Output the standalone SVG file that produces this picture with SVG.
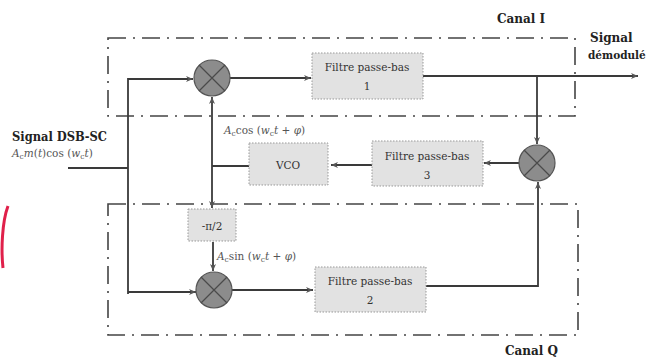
<svg xmlns="http://www.w3.org/2000/svg" width="654" height="358" viewBox="0 0 654 358">
<defs>
<marker id="ar" markerWidth="8" markerHeight="8" refX="7" refY="4" orient="auto" markerUnits="userSpaceOnUse">
<path d="M0,1 L7,4 L0,7 L2,4 Z" fill="#555"/>
</marker>
<style>
.ln{fill:none;stroke:#3a3a3a;stroke-width:1.8}
.grp{fill:none;stroke:#444;stroke-width:1.6;stroke-dasharray:18 7 2 7}
.box{fill:#e2e2e2;stroke:#999;stroke-width:1;stroke-dasharray:1.5 1.5}
.mul{fill:#8c8c8c;stroke:#555;stroke-width:1.2}
.x{stroke:#4a4a4a;stroke-width:1.2}
text{font-family:'DejaVu Serif',serif}
.t{font-size:10.5px;fill:#333;text-anchor:middle}
.b{font-weight:bold;fill:#222;font-size:12px}
.f{font-size:10.5px;fill:#555}
</style>
</defs>
<rect width="654" height="358" fill="#fff"/>
<path d="M8,206 C2,222 1,250 3,268" fill="none" stroke="#e0204a" stroke-width="3"/>
<g id="canal-i">
<rect class="grp" x="108" y="38" width="467" height="78"/>
<text class="b" x="497" y="23">Canal I</text>
</g>
<g id="canal-q">
<rect class="grp" x="108" y="204" width="470" height="131"/>
<text class="b" x="505" y="355">Canal Q</text>
</g>
<g id="connectors">
<path class="ln" d="M68,168 H128"/>
<path class="ln" d="M128,294 V79 H193" marker-end="url(#ar)"/>
<path class="ln" d="M128,292 H196" marker-end="url(#ar)"/>
<path class="ln" d="M230,78 H311" marker-end="url(#ar)"/>
<path class="ln" d="M423,76 H638" marker-end="url(#ar)"/>
<path class="ln" d="M537,76 V144" marker-end="url(#ar)"/>
<path class="ln" d="M519,163 H484" marker-end="url(#ar)"/>
<path class="ln" d="M372,165 H331" marker-end="url(#ar)"/>
<path class="ln" d="M249,166 H212"/>
<path class="ln" d="M212,166 V97" marker-end="url(#ar)"/>
<path class="ln" d="M212,166 V208" marker-end="url(#ar)"/>
<path class="ln" d="M213,242 V271" marker-end="url(#ar)"/>
<path class="ln" d="M232,290 H313" marker-end="url(#ar)"/>
<path class="ln" d="M426,286 H538 V182" marker-end="url(#ar)"/>
</g>
<g id="input-label">
<text class="b" x="12" y="141" textLength="95" lengthAdjust="spacingAndGlyphs">Signal DSB-SC</text>
<text class="f" x="12" y="157"><tspan font-style="italic">A</tspan><tspan font-size="7.5" dy="2">c</tspan><tspan dy="-2" font-style="italic">m</tspan>(<tspan font-style="italic">t</tspan>)cos (<tspan font-style="italic">w</tspan><tspan font-size="7.5" dy="2">c</tspan><tspan dy="-2" font-style="italic">t</tspan>)</text>
</g>
<g id="mult1">
<circle class="mul" cx="212" cy="78" r="18"/>
<path class="x" d="M199,65 L225,91 M225,65 L199,91"/>
</g>
<g id="filtre1">
<rect class="box" x="312" y="53" width="111" height="46"/>
<text class="t" x="367" y="71">Filtre passe-bas</text>
<text class="t" x="367" y="90">1</text>
</g>
<g id="output-label">
<text class="b" x="590" y="42">Signal</text>
<text class="b" x="588" y="59" style="font-size:10.5px">démodulé</text>
</g>
<g id="mult3">
<circle class="mul" cx="537" cy="163" r="18"/>
<path class="x" d="M524,150 L550,176 M550,150 L524,176"/>
</g>
<g id="filtre3">
<rect class="box" x="372" y="141" width="111" height="45"/>
<text class="t" x="427" y="160">Filtre passe-bas</text>
<text class="t" x="427" y="179">3</text>
</g>
<g id="vco">
<rect class="box" x="249" y="143" width="79" height="42"/>
<text class="t" x="288" y="169">VCO</text>
</g>
<g id="cos-label">
<text class="f" x="224" y="134"><tspan font-style="italic">A</tspan><tspan font-size="7.5" dy="2">c</tspan><tspan dy="-2">cos (</tspan><tspan font-style="italic">w</tspan><tspan font-size="7.5" dy="2">c</tspan><tspan dy="-2" font-style="italic">t</tspan> + <tspan font-style="italic">φ</tspan>)</text>
</g>
<g id="phase">
<rect class="box" x="188" y="209" width="48" height="32"/>
<text class="t" x="212" y="230">-π/2</text>
</g>
<g id="sin-label">
<text class="f" x="217" y="260"><tspan font-style="italic">A</tspan><tspan font-size="7.5" dy="2">c</tspan><tspan dy="-2">sin (</tspan><tspan font-style="italic">w</tspan><tspan font-size="7.5" dy="2">c</tspan><tspan dy="-2" font-style="italic">t</tspan> + <tspan font-style="italic">φ</tspan>)</text>
</g>
<g id="mult2">
<circle class="mul" cx="214" cy="290" r="18"/>
<path class="x" d="M201,277 L227,303 M227,277 L201,303"/>
</g>
<g id="filtre2">
<rect class="box" x="315" y="267" width="111" height="45"/>
<text class="t" x="370" y="285">Filtre passe-bas</text>
<text class="t" x="370" y="304">2</text>
</g>
</svg>
